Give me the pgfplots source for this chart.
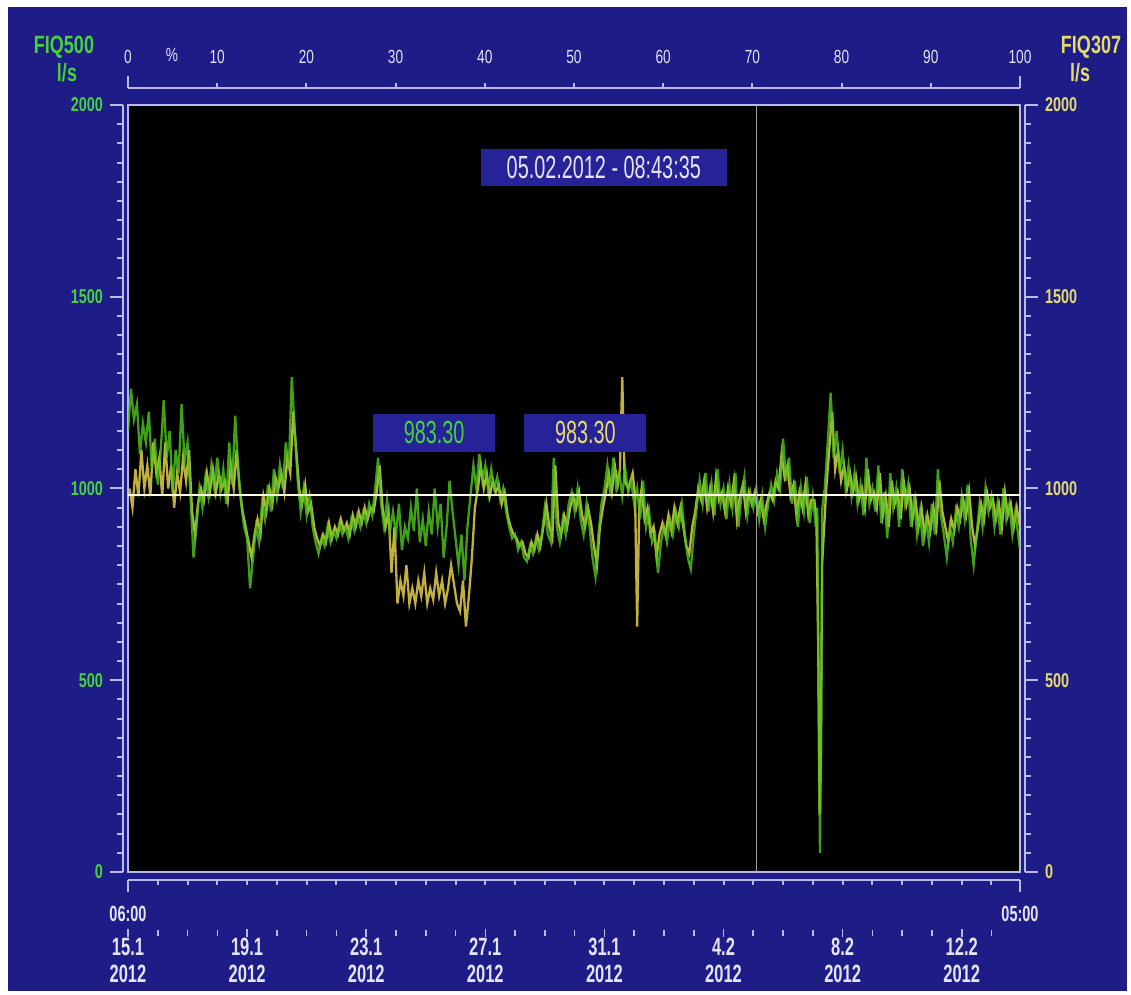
\documentclass[border=0pt]{standalone}
\usepackage{pgfplots}
\pgfplotsset{compat=1.18}
\usepackage{fontspec}
\setmainfont{Liberation Sans}[FakeStretch=0.72]
\newfontfamily\boxfont{Liberation Sans}[FakeStretch=0.62]
\newfontfamily\datefont{Liberation Sans}[FakeStretch=0.66]
\definecolor{bgblue}{RGB}{30,28,135}
\definecolor{boxblue}{RGB}{38,34,152}
\definecolor{lav}{RGB}{185,185,235}
\definecolor{txt}{RGB}{228,228,246}
\definecolor{fg}{RGB}{70,210,60}
\definecolor{fy}{RGB}{228,218,110}
\definecolor{lg}{RGB}{80,200,30}
\definecolor{ly}{RGB}{215,195,70}
\begin{document}
\begin{tikzpicture}
\fill[white] (0,0) rectangle (565.5pt,497.5pt);
\fill[bgblue] (4pt,2pt) rectangle (563.5pt,494pt);
\pgfplotsset{/pgf/number format/assume math mode=true,/pgf/number format/1000 sep={}}
% left scale
\begin{axis}[at={(61.5pt,61.5pt)},anchor=south west,scale only axis,width=10pt,height=383.5pt,
 xmin=0,xmax=1,ymin=0,ymax=2000,hide x axis,axis y line=left,y axis line style={lav,line width=1pt,-},
 ytick={0,500,...,2000},minor y tick num=9,tick align=outside,major tick length=6.5pt,minor tick length=3pt,
 tick style={lav,line width=1pt},yticklabel style={text=fg,font=\bfseries\fontsize{10}{10}\selectfont}]
\end{axis}
% right scale
\begin{axis}[at={(512.5pt,61.5pt)},anchor=south east,scale only axis,width=10pt,height=383.5pt,
 xmin=0,xmax=1,ymin=0,ymax=2000,hide x axis,axis y line=right,y axis line style={lav,line width=1pt,-},
 ytick={0,500,...,2000},minor y tick num=9,tick align=outside,major tick length=6.5pt,minor tick length=3pt,
 tick style={lav,line width=1pt},yticklabel style={text=fy,font=\bfseries\fontsize{10}{10}\selectfont}]
\end{axis}
% top percent scale
\begin{axis}[at={(64pt,453.5pt)},anchor=north west,scale only axis,width=446pt,height=10pt,
 xmin=0,xmax=100,ymin=0,ymax=1,hide y axis,axis x line=top,x axis line style={lav,line width=1pt,-},
 xtick={0,10,...,100},tick align=outside,major tick length=2.5pt,tick style={lav,line width=1pt},
 xticklabel style={text=txt,font=\fontsize{9.5}{10}\selectfont,yshift=6pt},
 extra x ticks={0,100},extra x tick labels={},extra x tick style={major tick length=6pt}]
\end{axis}
% bottom line
\begin{axis}[at={(64pt,57.5pt)},anchor=south west,scale only axis,width=446pt,height=10pt,
 xmin=0,xmax=29.958,ymin=0,ymax=1,hide y axis,axis x line=bottom,x axis line style={lav,line width=1pt,-},
 xtick={0,...,29},xticklabels={},tick align=outside,major tick length=2.5pt,tick style={lav,line width=1pt},
 extra x ticks={0,29.958},extra x tick labels={},extra x tick style={major tick length=6pt}]
\end{axis}
% date labels
\begin{axis}[at={(64pt,31pt)},anchor=south west,scale only axis,width=446pt,height=10pt,
 xmin=0,xmax=29.958,ymin=0,ymax=1,hide y axis,axis x line=bottom,x axis line style={draw=none},
 xtick={0,4,...,28},minor xtick={1,2,3,5,6,7,9,10,11,13,14,15,17,18,19,21,22,23,25,26,27,29},
 tick align=center,major tick length=4pt,minor tick length=3pt,tick style={lav,line width=0.8pt},
 xticklabels={{15.1\\2012},{19.1\\2012},{23.1\\2012},{27.1\\2012},{31.1\\2012},{4.2\\2012},{8.2\\2012},{12.2\\2012}},
 xticklabel style={align=center,text=txt,yshift=3pt,font=\datefont\bfseries\fontsize{12.5}{13.5}\selectfont}]
\end{axis}
% main plot
\begin{axis}[at={(64pt,61.5pt)},anchor=south west,scale only axis,width=446pt,height=383.5pt,
 xmin=0,xmax=29.958,ymin=0,ymax=2000,axis background/.style={fill=black},
 axis line style={lav,line width=1pt},xtick=\empty,ytick=\empty]
\addplot[ly,line width=1.15pt,opacity=0.9] coordinates {
(0.05,1000)(0.15,950)(0.25,1050)(0.35,980)(0.45,1100)(0.55,1000)(0.65,1060)(0.75,980)(0.85,1120)(0.95,1040)
(1.05,1080)(1.15,980)(1.25,1120)(1.35,1000)(1.45,1060)(1.55,950)(1.65,1040)(1.75,990)(1.85,1080)(1.95,1020)
(2.05,1100)(2.15,940)(2.25,880)(2.35,960)(2.45,1000)(2.55,970)(2.65,1040)(2.75,990)(2.85,1050)(2.95,990)
(3.05,1040)(3.15,1000)(3.25,1020)(3.35,970)(3.45,1060)(3.55,1000)(3.65,1100)(3.75,1000)(3.85,940)(3.95,900)
(4.05,860)(4.15,820)(4.25,880)(4.35,920)(4.45,880)(4.55,980)(4.65,940)(4.75,1000)(4.85,960)(4.95,1030)
(5.05,1000)(5.15,1040)(5.25,990)(5.35,1080)(5.45,1040)(5.55,1200)(5.65,1100)(5.75,1000)(5.85,960)(5.95,1010)
(6.05,940)(6.15,960)(6.25,900)(6.35,870)(6.45,850)(6.55,880)(6.65,860)(6.75,910)(6.85,870)(6.95,900)
(7.05,880)(7.15,920)(7.25,890)(7.35,910)(7.45,880)(7.55,930)(7.65,900)(7.75,940)(7.85,910)(7.95,950)
(8.05,920)(8.15,950)(8.25,940)(8.35,990)(8.45,1060)(8.55,950)(8.65,900)(8.75,940)(8.85,780)(8.95,900)
(9.05,700)(9.15,760)(9.25,720)(9.35,800)(9.45,700)(9.55,740)(9.65,700)(9.75,760)(9.85,720)(9.95,780)
(10.05,700)(10.15,740)(10.25,710)(10.35,780)(10.45,720)(10.55,760)(10.65,700)(10.75,740)(10.85,800)(10.95,750)
(11.05,700)(11.15,680)(11.25,760)(11.35,640)(11.45,720)(11.55,820)(11.65,950)(11.75,1000)(11.85,1060)(11.95,1000)
(12.05,1040)(12.15,980)(12.25,1020)(12.35,990)(12.45,1010)(12.55,960)(12.65,990)(12.75,930)(12.85,900)(12.95,880)
(13.05,870)(13.15,850)(13.25,860)(13.35,830)(13.45,820)(13.55,860)(13.65,840)(13.75,880)(13.85,850)(13.95,900)
(14.05,960)(14.15,900)(14.25,870)(14.35,1060)(14.45,910)(14.55,880)(14.65,930)(14.75,900)(14.85,950)(14.95,980)
(15.05,950)(15.15,990)(15.25,930)(15.35,900)(15.45,950)(15.55,910)(15.65,850)(15.75,800)(15.85,900)(15.95,950)
(16.05,990)(16.15,1040)(16.25,990)(16.35,1060)(16.45,1010)(16.52,1050)(16.6,1290)(16.68,1020)(16.8,1000)(16.95,1040)
(17.03,980)(17.1,640)(17.17,950)(17.25,1000)(17.35,920)(17.45,950)(17.55,880)(17.65,900)(17.75,820)(17.85,880)
(17.95,910)(18.05,880)(18.15,930)(18.25,890)(18.35,950)(18.45,910)(18.55,950)(18.65,900)(18.75,850)(18.85,830)
(18.95,900)(19.05,940)(19.15,1000)(19.25,970)(19.35,1020)(19.45,950)(19.55,1000)(19.65,940)(19.75,1030)(19.85,970)
(19.95,990)(20.05,940)(20.15,1000)(20.25,960)(20.35,1020)(20.45,920)(20.55,980)(20.65,1010)(20.75,940)(20.85,990)
(20.95,960)(21.05,990)(21.15,940)(21.25,970)(21.35,920)(21.45,960)(21.55,990)(21.65,970)(21.75,1020)(21.85,1000)
(21.95,1090)(22.05,1030)(22.15,1060)(22.25,980)(22.35,1010)(22.45,930)(22.55,990)(22.65,950)(22.75,1010)(22.85,930)
(22.95,970)(23.05,970)(23.12,920)(23.18,600)(23.23,150)(23.27,300)(23.31,800)(23.45,1000)(23.55,1100)(23.65,1200)(23.75,1050)(23.85,1100)(23.95,1020)
(24.05,1060)(24.15,1000)(24.25,1040)(24.35,990)(24.45,1030)(24.55,970)(24.65,1000)(24.75,950)(24.85,1050)(24.95,970)
(25.05,990)(25.15,950)(25.25,1040)(25.35,930)(25.45,980)(25.55,900)(25.65,1020)(25.75,960)(25.85,990)(25.95,920)
(26.05,1020)(26.15,960)(26.25,1000)(26.35,920)(26.45,970)(26.55,900)(26.65,950)(26.75,880)(26.85,930)(26.95,890)
(27.05,950)(27.15,900)(27.25,1020)(27.35,940)(27.45,900)(27.55,860)(27.65,920)(27.75,890)(27.85,950)(27.95,920)
(28.05,970)(28.15,930)(28.25,990)(28.35,900)(28.45,850)(28.55,900)(28.65,960)(28.75,920)(28.85,990)(28.95,950)
(29.05,970)(29.15,920)(29.25,960)(29.35,900)(29.45,990)(29.55,930)(29.65,960)(29.75,900)(29.85,950)(29.958,900)
};
\addplot[lg,line width=1.15pt,opacity=0.8] coordinates {
(0.0,1150)(0.1,1260)(0.2,1180)(0.3,1220)(0.4,1090)(0.5,1170)(0.6,1120)(0.7,1200)(0.8,1050)(0.9,1130)
(1.0,1010)(1.1,1100)(1.2,1230)(1.3,1080)(1.4,1150)(1.5,990)(1.6,1100)(1.7,1040)(1.8,1220)(1.9,1070)
(2.0,1120)(2.1,980)(2.2,820)(2.3,900)(2.4,1000)(2.5,950)(2.6,1030)(2.7,980)(2.8,1060)(2.9,1000)
(3.0,1080)(3.1,990)(3.2,1050)(3.3,960)(3.4,1120)(3.5,1010)(3.6,1190)(3.7,1050)(3.8,960)(3.9,900)
(4.0,870)(4.1,740)(4.2,820)(4.3,900)(4.4,860)(4.5,960)(4.6,920)(4.7,1010)(4.8,940)(4.9,1050)
(5.0,980)(5.1,1060)(5.2,1000)(5.3,1120)(5.4,1050)(5.5,1290)(5.6,1150)(5.7,1020)(5.8,940)(5.9,1000)
(6.0,930)(6.1,980)(6.2,900)(6.3,860)(6.4,830)(6.5,870)(6.6,850)(6.7,900)(6.8,860)(6.9,890)
(7.0,870)(7.1,910)(7.2,880)(7.3,900)(7.4,870)(7.5,920)(7.6,890)(7.7,930)(7.8,900)(7.9,940)
(8.0,910)(8.1,960)(8.2,930)(8.3,1000)(8.4,1080)(8.5,960)(8.6,900)(8.7,970)(8.8,890)(8.9,940)
(9.0,880)(9.1,960)(9.2,840)(9.3,900)(9.4,870)(9.5,950)(9.6,890)(9.7,1000)(9.8,860)(9.9,920)
(10.0,850)(10.1,940)(10.2,880)(10.3,1000)(10.4,900)(10.5,960)(10.6,820)(10.7,900)(10.8,1020)(10.9,940)
(11.0,870)(11.1,800)(11.2,880)(11.3,760)(11.4,900)(11.5,980)(11.6,1060)(11.7,1000)(11.8,1090)(11.9,1020)
(12.0,1060)(12.1,990)(12.2,1050)(12.3,1000)(12.4,1030)(12.5,970)(12.6,1000)(12.7,940)(12.8,900)(12.9,870)
(13.0,880)(13.1,840)(13.2,860)(13.3,820)(13.4,810)(13.5,850)(13.6,830)(13.7,870)(13.8,840)(13.9,880)
(14.0,950)(14.1,880)(14.2,860)(14.3,1080)(14.4,900)(14.5,860)(14.6,920)(14.7,880)(14.8,960)(14.9,990)
(15.0,940)(15.1,1000)(15.2,920)(15.3,880)(15.4,960)(15.5,900)(15.6,820)(15.7,770)(15.8,880)(15.9,960)
(16.0,1000)(16.1,1060)(16.2,980)(16.3,1080)(16.4,1000)(16.5,1040)(16.6,980)(16.7,1050)(16.8,990)(16.9,1020)
(17.0,960)(17.1,1000)(17.2,920)(17.3,1020)(17.4,900)(17.5,940)(17.6,860)(17.7,880)(17.8,780)(17.9,860)
(18.0,900)(18.1,860)(18.2,920)(18.3,880)(18.4,940)(18.5,900)(18.6,960)(18.7,880)(18.8,820)(18.9,790)
(19.0,880)(19.1,950)(19.2,1020)(19.3,960)(19.4,1040)(19.5,940)(19.6,1010)(19.7,930)(19.8,1050)(19.9,960)
(20.0,1000)(20.1,920)(20.2,1010)(20.3,950)(20.4,1040)(20.5,900)(20.6,980)(20.7,1030)(20.8,930)(20.9,990)
(21.0,950)(21.1,1000)(21.2,920)(21.3,980)(21.4,900)(21.5,960)(21.6,1010)(21.7,970)(21.8,1040)(21.9,1000)
(22.0,1130)(22.1,1020)(22.2,1080)(22.3,960)(22.4,1020)(22.5,900)(22.6,1000)(22.7,940)(22.8,1030)(22.9,910)
(23.0,980)(23.1,900)(23.15,950)(23.2,400)(23.24,50)(23.28,400)(23.32,950)(23.4,1000)(23.5,1120)(23.6,1250)(23.7,1080)(23.8,1150)(23.9,1040)
(24.0,1100)(24.1,1000)(24.2,1060)(24.3,980)(24.4,1040)(24.5,960)(24.6,1010)(24.7,930)(24.8,1080)(24.9,960)
(25.0,1000)(25.1,940)(25.2,1060)(25.3,910)(25.4,990)(25.5,870)(25.6,1040)(25.7,950)(25.8,1000)(25.9,900)
(26.0,1050)(26.1,960)(26.2,1010)(26.3,900)(26.4,980)(26.5,880)(26.6,940)(26.7,850)(26.8,920)(26.9,860)
(27.0,960)(27.1,880)(27.2,1050)(27.3,930)(27.4,880)(27.5,820)(27.6,900)(27.7,860)(27.8,940)(27.9,900)
(28.0,980)(28.1,920)(28.2,1010)(28.3,870)(28.4,800)(28.5,880)(28.6,960)(28.7,900)(28.8,1000)(28.9,940)
(29.0,980)(29.1,900)(29.2,960)(29.3,880)(29.4,1000)(29.5,920)(29.6,960)(29.7,880)(29.8,940)(29.958,840)
};
\addplot[white!90!yellow,line width=0.8pt] coordinates {(0,983.3) (29.958,983.3)};
\addplot[gray!75,line width=0.8pt] coordinates {(21.11,0) (21.11,2000)};
\node[fill=boxblue,minimum width=123pt,minimum height=18.5pt,inner sep=0pt,text=txt,font=\boxfont\fontsize{16}{16}\selectfont] at (axis cs:15.98,1836) {05.02.2012 - 08:43:35};
\node[fill=boxblue,minimum width=61pt,minimum height=19pt,inner sep=0pt,text=fg,font=\boxfont\fontsize{16}{16}\selectfont] at (axis cs:10.28,1145) {983.30};
\node[fill=boxblue,minimum width=61pt,minimum height=19pt,inner sep=0pt,text=fy,font=\boxfont\fontsize{16}{16}\selectfont] at (axis cs:15.36,1145) {983.30};
\end{axis}
\node[text=fg,font=\bfseries\fontsize{12.5}{12.5}\selectfont] at (32pt,474pt) {FIQ500};
\node[text=fg,font=\bfseries\fontsize{12.5}{12.5}\selectfont] at (33.5pt,461pt) {l/s};
\node[text=fy,font=\bfseries\fontsize{12.5}{12.5}\selectfont] at (545.5pt,474pt) {FIQ307};
\node[text=fy,font=\bfseries\fontsize{12.5}{12.5}\selectfont] at (540pt,461pt) {l/s};
\node[text=txt,font=\fontsize{9.5}{10}\selectfont] at (86pt,470pt) {\%};
\node[text=txt,font=\datefont\bfseries\fontsize{11}{11}\selectfont] at (64pt,40.5pt) {06:00};
\node[text=txt,font=\datefont\bfseries\fontsize{11}{11}\selectfont] at (510pt,40.5pt) {05:00};
\pgfresetboundingbox
\useasboundingbox (0,0) rectangle (565.5pt,497.5pt);
\end{tikzpicture}
\end{document}
